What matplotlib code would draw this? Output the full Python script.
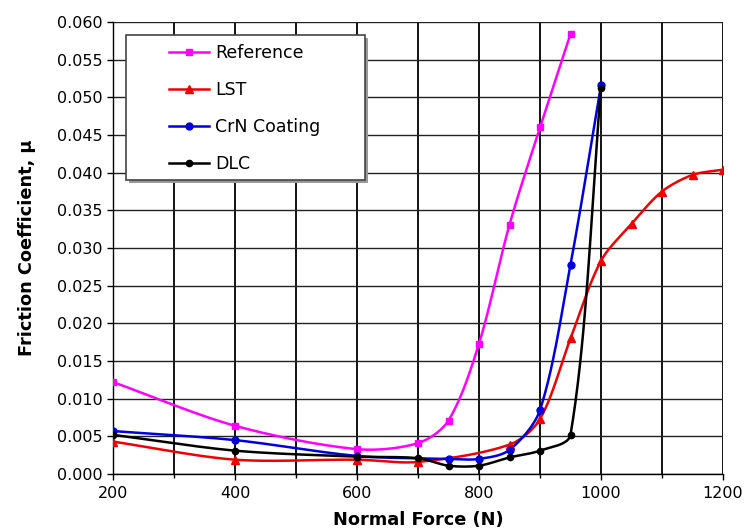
import numpy as np
import matplotlib
matplotlib.use('Agg')
import matplotlib.pyplot as plt
from matplotlib.patches import Rectangle
from matplotlib.ticker import MultipleLocator, FormatStrFormatter

plt.rcParams['font.family'] = 'DejaVu Sans'

# data
ref_x = [200, 400, 600, 700, 750, 800, 850, 900, 950]
ref_y = [0.0122, 0.0064, 0.0033, 0.0041, 0.0071, 0.0173, 0.0331, 0.0460, 0.0584]

lst_x = [200, 400, 600, 700, 850, 900, 950, 1000, 1050, 1100, 1150, 1200]
lst_y = [0.0043, 0.0019, 0.0019, 0.0016, 0.0039, 0.0073, 0.0180, 0.0283, 0.0332, 0.0375, 0.0397, 0.0404]

crn_x = [200, 400, 600, 750, 800, 850, 900, 950, 1000]
crn_y = [0.0057, 0.0045, 0.0024, 0.0020, 0.0020, 0.0032, 0.0085, 0.0278, 0.0516]

dlc_x = [200, 400, 600, 700, 750, 800, 850, 900, 950, 1000]
dlc_y = [0.0052, 0.0031, 0.0023, 0.0021, 0.0011, 0.0011, 0.0022, 0.0031, 0.0052, 0.0512]

names = ['Reference', 'LST', 'CrN Coating', 'DLC']
colors = ['#ff00ff', '#ee0000', '#0000dd', '#000000']
markers = ['s', '^', 'o', 'o']
msizes = [5, 6, 5, 4.5]

# pixel scale used for the smoothing
SX = 610 / 1000.0
SY = 451 / 0.06


def smooth(xs, ys, n=40, k_len=0.3):
    pts = np.column_stack([np.asarray(xs, float) * SX, np.asarray(ys, float) * SY])
    k = len(pts)
    tang = []
    for i in range(k):
        d = pts[min(i + 1, k - 1)] - pts[max(i - 1, 0)]
        tang.append(d / np.hypot(*d))
    out = [pts[0]]
    t = np.linspace(0, 1, n)[1:][:, None]
    for i in range(k - 1):
        p1, p2 = pts[i], pts[i + 1]
        L = np.hypot(*(p2 - p1))
        c1 = p1 + tang[i] * L * k_len
        c2 = p2 - tang[i + 1] * L * k_len
        seg = ((1 - t) ** 3) * p1 + 3 * ((1 - t) ** 2) * t * c1 + 3 * (1 - t) * t ** 2 * c2 + t ** 3 * p2
        out.extend(seg)
    out = np.array(out)
    return out[:, 0] / SX, out[:, 1] / SY


fig = plt.figure(figsize=(7.51, 5.31), dpi=100)
ax = fig.add_axes([113 / 751, 1 - 474 / 531, 610 / 751, 452 / 531])

series = [(ref_x, ref_y), (lst_x, lst_y), (crn_x, crn_y), (dlc_x, dlc_y)]
handles = []
for (xs, ys), c, m, ms in zip(series, colors, markers, msizes):
    sx, sy = smooth(xs, ys)
    ln, = ax.plot(sx, sy, color=c, lw=1.8, zorder=3)
    mk, = ax.plot(xs, ys, ls='none', marker=m, color=c, ms=ms, zorder=4)
    handles.append((ln, mk))

ax.set_xlim(200, 1200)
ax.set_ylim(0, 0.060)
ax.xaxis.set_major_locator(MultipleLocator(200))
ax.xaxis.set_minor_locator(MultipleLocator(100))
ax.yaxis.set_major_locator(MultipleLocator(0.005))
ax.yaxis.set_major_formatter(FormatStrFormatter('%.3f'))
ax.grid(True, which='both', axis='x', color='black', lw=1.3)
ax.grid(True, which='major', axis='y', color='#222222', lw=1.0)
ax.set_axisbelow(True)

for s in ['top', 'right']:
    ax.spines[s].set_visible(False)
ax.spines['left'].set_linewidth(1.0)
ax.spines['bottom'].set_linewidth(1.0)
ax.tick_params(axis='both', which='both', direction='out', length=4, width=1, labelsize=11.5, colors='black')
ax.tick_params(axis='x', which='minor', length=3)
ax.tick_params(axis='x', pad=5)

ax.set_xlabel('Normal Force (N)', fontsize=12.8, fontweight='bold', labelpad=7)
ax.set_ylabel('Friction Coefficient, μ', fontsize=12.8, fontweight='bold', labelpad=15)

# legend box with shadow
bx0, by0, bw, bh = 0.021, 0.650, 0.392, 0.321
shadow = Rectangle((bx0 + 0.005, by0 - 0.006), bw, bh, transform=ax.transAxes,
                   facecolor='#999999', edgecolor='none', zorder=5)
box = Rectangle((bx0, by0), bw, bh, transform=ax.transAxes,
                facecolor='white', edgecolor='#444444', lw=1.2, zorder=6)
ax.add_patch(shadow)
ax.add_patch(box)
leg = ax.legend(handles, names, loc='upper left', bbox_to_anchor=(0.066, 0.985),
                frameon=False, fontsize=12.5, handlelength=2.3, handletextpad=0.35,
                labelspacing=1.08, borderpad=0.4)
leg.set_zorder(7)

fig.savefig('out.png', dpi=100)
